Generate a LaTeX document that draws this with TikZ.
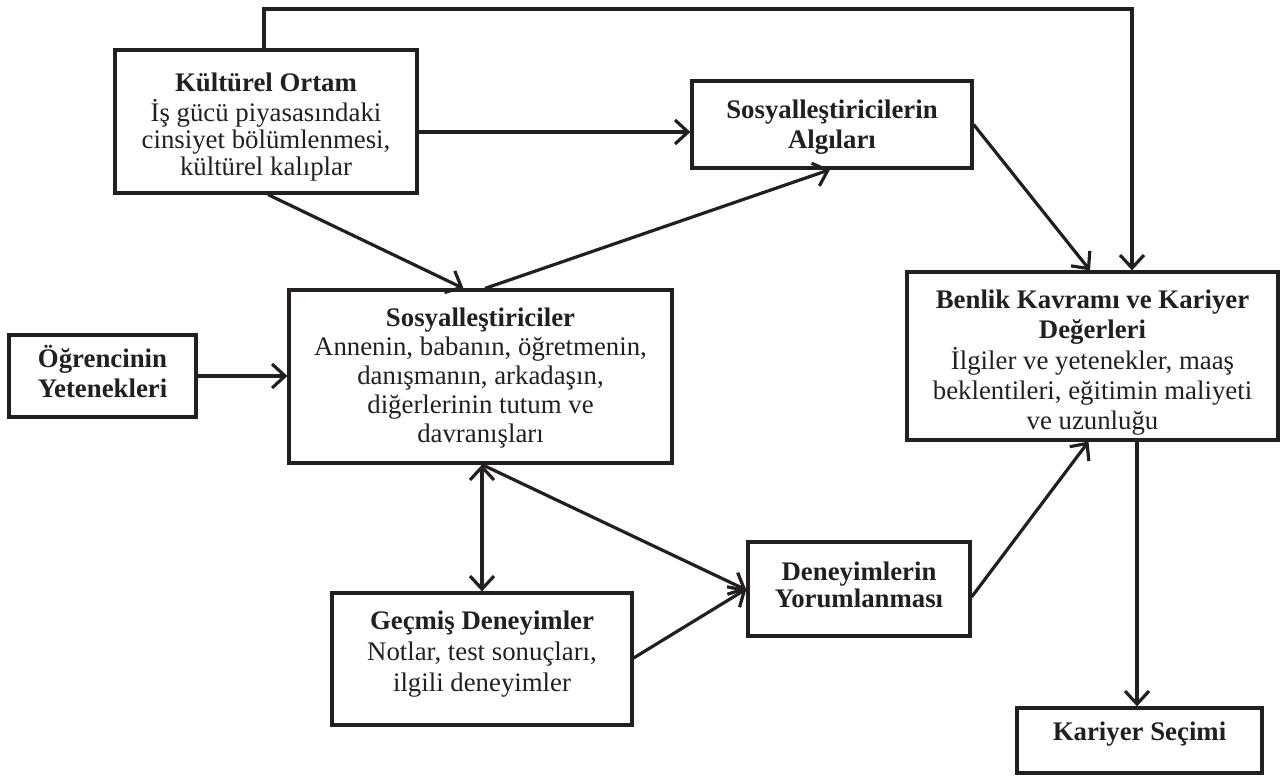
\documentclass[tikz,border=0pt]{standalone}
\usepackage{fontspec}
\setmainfont{Liberation Serif}
\usetikzlibrary{arrows.meta,calc}
\definecolor{ink}{RGB}{35,31,32}
\newcommand\mvtext[2]{\raisebox{#1}[\height][\depth]{\begin{tabular}{@{}c@{}}#2\end{tabular}}}
\begin{document}
\begin{tikzpicture}[x=1pt,y=-1pt,
  box/.style={draw=ink,text=ink,line width=3.2pt,inner sep=0pt,align=center,
    font=\fontsize{26.8}{29}\selectfont},
  arr/.style={draw=ink,line width=3.2pt,-{Straight Barb[length=13pt,width=24pt]}},
  darr/.style={draw=ink,line width=3.2pt,{Straight Barb[length=13pt,width=24pt]}-{Straight Barb[length=13pt,width=24pt]}},
  ln/.style={draw=ink,line width=3.2pt}]
\useasboundingbox (0,0) rectangle (1280,776);
\node[box,minimum width=302pt,minimum height=143pt,font=\fontsize{26.8}{27}\selectfont] (kult) at (266,121.5)
  {\mvtext{-6.5pt}{\textbf{Kültürel Ortam}\\İş gücü piyasasındaki\\cinsiyet bölümlenmesi,\\kültürel kalıplar}};
\node[box,minimum width=280pt,minimum height=87pt,font=\fontsize{26.8}{30}\selectfont\bfseries] (alg) at (832,124.5)
  {\mvtext{-3pt}{Sosyalleştiricilerin\\Algıları}};
\node[box,minimum width=371pt,minimum height=168pt,font=\fontsize{26.8}{30}\selectfont] (benlik) at (1092.5,356)
  {\mvtext{-7pt}{\textbf{Benlik Kavramı ve Kariyer}\\\textbf{Değerleri}\\İlgiler ve yetenekler, maaş\\beklentileri, eğitimin maliyeti\\ve uzunluğu}};
\node[box,minimum width=187pt,minimum height=82pt,font=\fontsize{26.8}{30}\selectfont\bfseries] (ogr) at (102.5,376)
  {\mvtext{0pt}{Öğrencinin\\Yetenekleri}};
\node[box,minimum width=383pt,minimum height=173pt,font=\fontsize{26.8}{29}\selectfont] (sos) at (480.5,376.5)
  {\mvtext{-2pt}{\textbf{Sosyalleştiriciler}\\Annenin, babanın, öğretmenin,\\danışmanın, arkadaşın,\\diğerlerinin tutum ve\\davranışları}};
\node[box,minimum width=300pt,minimum height=132pt,font=\fontsize{26.8}{31}\selectfont] (gec) at (482,659)
  {\mvtext{5pt}{\textbf{Geçmiş Deneyimler}\\Notlar, test sonuçları,\\ilgili deneyimler}};
\node[box,minimum width=222pt,minimum height=94pt,font=\fontsize{26.8}{27}\selectfont\bfseries] (den) at (859,589)
  {\mvtext{0pt}{Deneyimlerin\\Yorumlanması}};
\node[box,minimum width=245pt,minimum height=65pt,font=\fontsize{26.8}{29}\selectfont\bfseries] (kar) at (1139.5,740.5)
  {\raisebox{0pt}[0pt][0pt]{Kariyer Seçimi}};
% connectors
\coordinate (tl) at ([xshift=-2pt]kult.north);
\coordinate (tr) at ([xshift=39.5pt]benlik.north);
\coordinate (ty) at (0,9);
\draw[arr] (tl) -- (tl |- ty) -- (tr |- ty) -- (tr);
\coordinate (ay) at (0,132);
\draw[arr] (kult.east |- ay) -- (alg.west |- ay);
\draw[arr] ([xshift=2pt]kult.south) -- ([xshift=-17pt]sos.north);
\draw[arr] ([xshift=4.5pt]sos.north) -- ([xshift=-2pt]alg.south);
\draw[arr] (alg.east) -- ([xshift=-2.5pt]benlik.north);
\draw[arr] (ogr.east) -- (ogr.east -| sos.west);
\draw[darr] (sos.south -| gec.north) -- (gec.north);
\draw[arr] (sos.south -| gec.north) -- ([yshift=-1pt]den.west);
\draw[arr] ([yshift=1pt]gec.east) -- (den.west);
\draw[arr] ([yshift=-8pt]den.east) -- ([xshift=-4pt]benlik.south);
\coordinate (kt) at ([xshift=-2.5pt]kar.north);
\draw[arr] (kt |- benlik.south) -- (kt);
\end{tikzpicture}
\end{document}
